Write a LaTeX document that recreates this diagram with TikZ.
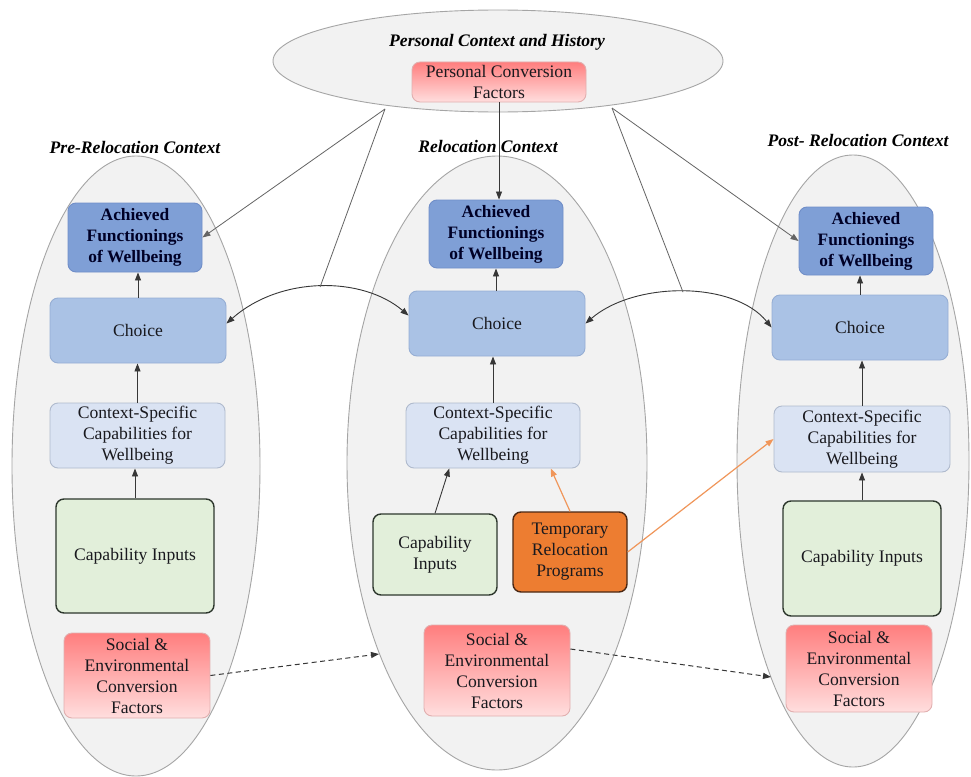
\documentclass[tikz,border=0pt]{standalone}
\usepackage{fontspec}
\setmainfont{Liberation Serif}
\usetikzlibrary{shapes.geometric,arrows.meta,calc}
\definecolor{ellfill}{RGB}{242,242,242}
\definecolor{elldraw}{RGB}{165,165,165}
\definecolor{achfill}{RGB}{127,159,214}
\definecolor{achdraw}{RGB}{112,142,200}
\definecolor{chofill}{RGB}{170,194,229}
\definecolor{chodraw}{RGB}{150,174,212}
\definecolor{csfill}{RGB}{218,227,243}
\definecolor{csdraw}{RGB}{175,186,205}
\definecolor{cinfill}{RGB}{226,239,218}
\definecolor{cindraw}{RGB}{45,55,45}
\definecolor{trpfill}{RGB}{237,125,49}
\definecolor{trpdraw}{RGB}{75,40,20}
\definecolor{soctop}{RGB}{255,126,126}
\definecolor{socbot}{RGB}{255,222,222}
\definecolor{socdraw}{RGB}{225,175,175}
\definecolor{txt}{RGB}{25,25,30}
\definecolor{linec}{RGB}{55,55,55}
\definecolor{graylinec}{RGB}{100,100,100}
\definecolor{orangec}{RGB}{240,150,90}
\tikzset{
  ctx/.style={ellipse, fill=ellfill, draw=elldraw, line width=0.9pt, inner sep=0pt},
  bx/.style={rounded corners=8pt, inner sep=0pt, align=center, text=txt,
    font=\fontsize{17.6}{21}\selectfont, line width=0.9pt},
  achbox/.style={bx, fill=achfill, draw=achdraw, font=\bfseries\fontsize{17.4}{21}\selectfont, text=black!85!blue},
  chobox/.style={bx, fill=chofill, draw=chodraw},
  csbox/.style={bx, fill=csfill, draw=csdraw},
  cinbox/.style={bx, fill=cinfill, draw=cindraw, line width=1.4pt},
  trpbox/.style={bx, fill=trpfill, draw=trpdraw, line width=1.4pt},
  socbox/.style={bx, top color=soctop, bottom color=socbot, draw=socdraw},
  ttl/.style={font=\bfseries\itshape\fontsize{17.6}{20}\selectfont, text=black, inner sep=0pt},
  arr/.style={draw=linec, line width=0.9pt, -{Triangle[length=8pt,width=6pt]}},
  darr/.style={draw=linec, line width=0.9pt, {Triangle[length=8pt,width=6pt]}-{Triangle[length=8pt,width=6pt]}},
  gline/.style={draw=graylinec, line width=0.8pt},
  garr/.style={draw=graylinec, line width=0.8pt, -{Triangle[length=8pt,width=6pt]}},
  oarr/.style={draw=orangec, line width=1.2pt, -{Triangle[length=8pt,width=6pt]}},
  dsh/.style={draw=linec, line width=1pt, dash pattern=on 5pt off 3.5pt, -{Triangle[length=8pt,width=6pt]}},
}
\begin{document}
\begin{tikzpicture}[x=1pt,y=-1pt]
\fill[white] (0,0) rectangle (971,776);
\useasboundingbox (0,0) rectangle (971,776);

% context ellipses
\node[ctx, minimum width=248pt, minimum height=620pt] (le) at (136,466) {};
\node[ctx, minimum width=300pt, minimum height=614pt] (me) at (497,463) {};
\node[ctx, minimum width=232pt, minimum height=612pt] (re) at (853,461) {};
\node[ctx, minimum width=450pt, minimum height=102pt] (pe) at (498,61) {};

% titles
\node[ttl] (tpe) at (497,42) {Personal Context and History};
\node[ttl] (tle) at (135,147) {Pre-Relocation Context};
\node[ttl] (tme) at (488,146) {Relocation Context};
\node[ttl] (tre) at (858,140) {Post- Relocation Context};

% personal conversion factors
\node[socbox, minimum width=174pt, minimum height=40pt] (pcf) at (499,82) {Personal Conversion\\Factors};

% left column
\node[achbox, minimum width=134pt, minimum height=69pt] (lach) at (135,237.5) {Achieved\\Functionings\\of Wellbeing};
\node[chobox, minimum width=176pt, minimum height=65pt] (lcho) at (138,330.5) {Choice};
\node[csbox, minimum width=175pt, minimum height=65pt] (lcs) at (137.5,435.5) {Context-Specific\\Capabilities for\\Wellbeing};
\node[cinbox, minimum width=158pt, minimum height=114pt] (lcin) at (135,556) {Capability Inputs};
\node[socbox, minimum width=146pt, minimum height=85pt] (lsoc) at (137,675.5) {Social \&\\Environmental\\Conversion\\Factors};

% middle column
\node[achbox, minimum width=134pt, minimum height=68pt] (mach) at (496,234) {Achieved\\Functionings\\of Wellbeing};
\node[chobox, minimum width=176pt, minimum height=65pt] (mcho) at (497,323.5) {Choice};
\node[csbox, minimum width=174pt, minimum height=65pt] (mcs) at (493,435.5) {Context-Specific\\Capabilities for\\Wellbeing};
\node[cinbox, minimum width=124pt, minimum height=81pt] (mcin) at (435,554.5) {Capability\\Inputs};
\node[trpbox, minimum width=114pt, minimum height=80pt] (mtrp) at (570,552) {Temporary\\Relocation\\Programs};
\node[socbox, minimum width=146pt, minimum height=91pt] (msoc) at (497,670.5) {Social \&\\Environmental\\Conversion\\Factors};

% right column
\node[achbox, minimum width=134pt, minimum height=68pt] (rach) at (866,241) {Achieved\\Functionings\\of Wellbeing};
\node[chobox, minimum width=176pt, minimum height=65pt] (rcho) at (860,327.5) {Choice};
\node[csbox, minimum width=176pt, minimum height=66pt] (rcs) at (862,439) {Context-Specific\\Capabilities for\\Wellbeing};
\node[cinbox, minimum width=158pt, minimum height=115pt] (rcin) at (862,558.5) {Capability Inputs};
\node[socbox, minimum width=146pt, minimum height=87pt] (rsoc) at (859,668.5) {Social \&\\Environmental\\Conversion\\Factors};

% within-column arrows
\draw[arr] (lcin.north) -- (lcin.north |- lcs.south);
\draw[arr] (lcs.north) -- (lcs.north |- lcho.south);
\draw[arr] (lcho.north) -- (lcho.north |- lach.south);
\draw[arr] (mcin.north) -- ($(mcs.south west)!0.25!(mcs.south east)$);
\draw[arr] (mcs.north) -- (mcs.north |- mcho.south);
\draw[arr] (mach.south |- mcho.north) -- (mach.south);
\draw[arr] (rcin.north) -- (rcin.north |- rcs.south);
\draw[arr] (rcs.north) -- (rcs.north |- rcho.south);
\draw[arr] (rcho.north) -- (rcho.north |- rach.south);

% orange arrows
\draw[oarr] (mtrp.north) -- ($(mcs.south west)!0.83!(mcs.south east)$);
\draw[oarr] (mtrp.east) -- (rcs.west);

% curved double arrows between choices
\draw[darr] ([yshift=7pt]lcho.east) .. controls (280,276) and (362,276) .. coordinate[pos=0.5] (arcL) ([yshift=8pt]mcho.west);
\draw[darr] (mcho.east) .. controls (635,281) and (734,281) .. coordinate[pos=0.5] (arcR) (rcho.west);

% lines from personal context
\coordinate (pl) at (385,109);
\coordinate (pr) at (612,108);
\draw[garr] (pl) -- (lach.east);
\draw[gline] (pl) -- (arcL);
\draw[garr] (pr) -- (rach.west);
\draw[gline] (pr) -- (arcR);
\draw[arr, line width=0.8pt] (pcf.south) -- (pcf.south |- mach.north);

% dashed arrows between social factors
\coordinate (d1) at (379,654);
\coordinate (d2) at (771,677);
\draw[dsh] (lsoc.east) -- (d1);
\draw[dsh] ([yshift=21.5pt]msoc.east) -- (d2);
\end{tikzpicture}
\end{document}
